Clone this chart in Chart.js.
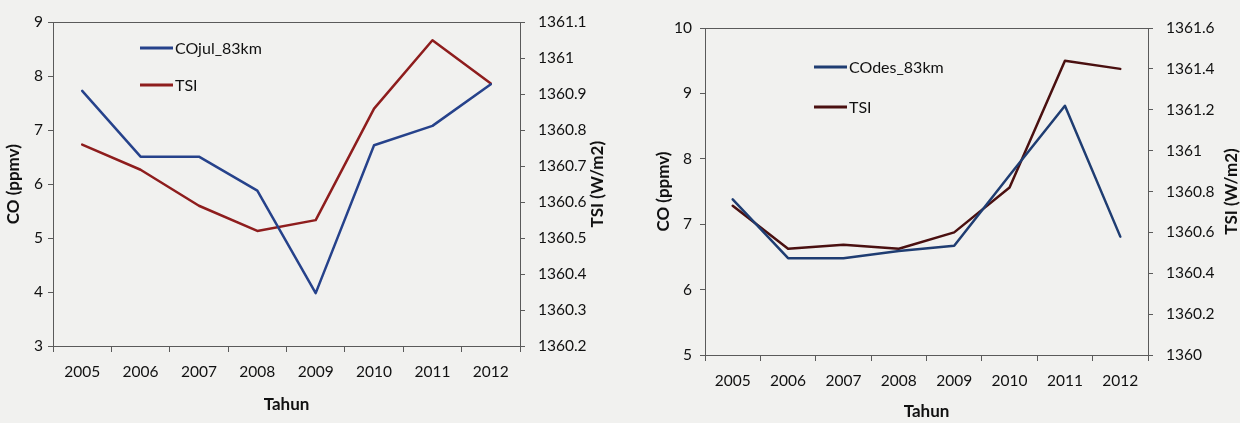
<!DOCTYPE html>
<html>
<head>
<meta charset="utf-8">
<script src="https://cdn.jsdelivr.net/npm/chart.js@4.4.1/dist/chart.umd.min.js"></script>
<style>
    html, body { margin: 0; padding: 0; background: #f1f1ef; }
    #wrap { position: relative; width: 1240px; height: 423px; overflow: hidden; }
    canvas { position: absolute; top: 0; }
</style>
</head>
<body>
<div id="wrap">
    <canvas id="julChart" width="620" height="423" style="left:0"></canvas>
    <canvas id="desChart" width="620" height="423" style="left:620px"></canvas>
</div>
<script>
// categories
const years = ['2005', '2006', '2007', '2008', '2009', '2010', '2011', '2012'];

// left panel (July)
const coJul = [7.73, 6.51, 6.51, 5.88, 3.98, 6.72, 7.08, 7.85];
const tsiJul = [1360.76, 1360.69, 1360.59, 1360.52, 1360.55, 1360.86, 1361.05, 1360.93];

// right panel (December)
const coDes = [7.38, 6.48, 6.48, 6.59, 6.67, 7.75, 8.81, 6.81];
const tsiDes = [1360.73, 1360.52, 1360.54, 1360.52, 1360.60, 1360.82, 1361.44, 1361.40];

// axis ranges: [min, max, step]
const coJulAxis = [3, 9, 1];
const tsiJulAxis = [1360.2, 1361.1, 0.1];
const coDesAxis = [5, 10, 1];
const tsiDesAxis = [1360, 1361.6, 0.2];

const FONT = 'Lato, "Open Sans", sans-serif';
const TEXT = '#111111';
const FRAME = '#5a5a5a';
const TICK_SIZE = 15.5;
const TITLE_SIZE = 17;

/**
 * draws the top frame line, the right axis title (bottom-to-top) and the legend inside the plot
 */
const excelLook = {
    id: 'excelLook',
    beforeDatasetsDraw(chart, args, opts) {
        const {ctx, chartArea: a} = chart;
        ctx.save();
        ctx.strokeStyle = FRAME;
        ctx.lineWidth = 1;
        ctx.strokeRect(Math.round(a.left) + 0.5, Math.round(a.top) + 0.5,
            Math.round(a.right - a.left), Math.round(a.bottom - a.top));
        ctx.restore();
    },
    afterDraw(chart, args, opts) {
        const {ctx, chartArea: a} = chart;
        ctx.save();
        ctx.fillStyle = TEXT;
        ctx.font = 'bold ' + TITLE_SIZE + 'px ' + FONT;
        ctx.textAlign = 'center';
        ctx.textBaseline = 'middle';
        ctx.translate(opts.rightTitleX, (a.top + a.bottom) / 2);
        ctx.rotate(-Math.PI / 2);
        ctx.fillText(opts.rightTitle, 0, 0);
        ctx.restore();

        ctx.save();
        ctx.font = '16px ' + FONT;
        ctx.textAlign = 'left';
        ctx.textBaseline = 'middle';
        chart.data.datasets.forEach((ds, i) => {
            const y = opts.legendY[i];
            ctx.strokeStyle = ds.borderColor;
            ctx.lineWidth = 3;
            ctx.beginPath();
            ctx.moveTo(opts.legendX, y);
            ctx.lineTo(opts.legendX + 33, y);
            ctx.stroke();
            ctx.fillStyle = TEXT;
            ctx.fillText(ds.label, opts.legendX + 35, y + 1);
        });
        ctx.restore();
    }
};

function tsiLabel(v) {
    return String(parseFloat(Number(v).toFixed(1)));
}

/**
 * builds one dual axis line chart
 */
function makeChart(canvas, p) {
    return new Chart(canvas, {
        type: 'line',
        data: {
            labels: years,
            datasets: [
                {label: p.coLabel, data: p.co, yAxisID: 'y', borderColor: p.coColor},
                {label: 'TSI', data: p.tsi, yAxisID: 'y1', borderColor: p.tsiColor}
            ]
        },
        options: {
            responsive: false,
            animation: false,
            events: [],
            layout: {padding: p.padding},
            elements: {
                line: {borderWidth: 2.5, tension: 0, borderCapStyle: 'round', borderJoinStyle: 'round'},
                point: {radius: 0}
            },
            plugins: {
                legend: {display: false},
                tooltip: {enabled: false},
                excelLook: {
                    legendX: p.legendX,
                    legendY: p.legendY,
                    rightTitle: 'TSI (W/m2)',
                    rightTitleX: p.rightTitleX
                }
            },
            scales: {
                x: {
                    offset: true,
                    grid: {display: true, drawOnChartArea: false, drawTicks: true, tickLength: 6, offset: true, color: FRAME},
                    border: {display: false},
                    ticks: {color: TEXT, font: {family: FONT, size: TICK_SIZE}, padding: 11, maxRotation: 0},
                    title: {display: true, text: 'Tahun', color: TEXT, font: {family: FONT, size: TITLE_SIZE, weight: 'bold'},
                        padding: {top: 0, bottom: p.xTitlePad}},
                    afterFit: s => { s.height = p.xHeight; }
                },
                y: {
                    position: 'left',
                    min: p.coAxis[0], max: p.coAxis[1],
                    grid: {drawOnChartArea: false, tickLength: 5, color: FRAME},
                    border: {display: false},
                    ticks: {stepSize: p.coAxis[2], color: TEXT, font: {family: FONT, size: TICK_SIZE}, padding: p.yTickPad},
                    title: {display: true, text: 'CO (ppmv)', color: TEXT, font: {family: FONT, size: TITLE_SIZE, weight: 'bold'},
                        padding: {top: 3, bottom: 0}},
                    afterFit: s => { s.width = p.yWidth; }
                },
                y1: {
                    position: 'right',
                    min: p.tsiAxis[0], max: p.tsiAxis[1],
                    grid: {drawOnChartArea: false, tickLength: 5, color: FRAME},
                    border: {display: false},
                    ticks: {stepSize: p.tsiAxis[2], color: TEXT, font: {family: FONT, size: TICK_SIZE}, padding: 13, callback: tsiLabel},
                    afterFit: s => { s.width = p.y1Width; }
                }
            }
        },
        plugins: [excelLook]
    });
}

makeChart(document.getElementById('julChart'), {
    coLabel: 'COjul_83km', co: coJul, tsi: tsiJul,
    coColor: '#26428b', tsiColor: '#8e1d1d',
    coAxis: coJulAxis, tsiAxis: tsiJulAxis,
    padding: {left: 0, right: 0, top: 18, bottom: 8},
    yWidth: 53, y1Width: 100, xHeight: 69, xTitlePad: 0, yTickPad: 5,
    legendX: 140, legendY: [48, 85], rightTitleX: 598
});

makeChart(document.getElementById('desChart'), {
    coLabel: 'COdes_83km', co: coDes, tsi: tsiDes,
    coColor: '#1f3d72', tsiColor: '#4a1010',
    coAxis: coDesAxis, tsiAxis: tsiDesAxis,
    padding: {left: 30, right: 0, top: 28, bottom: 1},
    yWidth: 55, y1Width: 92, xHeight: 67, xTitlePad: 0, yTickPad: 8,
    legendX: 194, legendY: [67, 107], rightTitleX: 612
});
</script>
</body>
</html>
